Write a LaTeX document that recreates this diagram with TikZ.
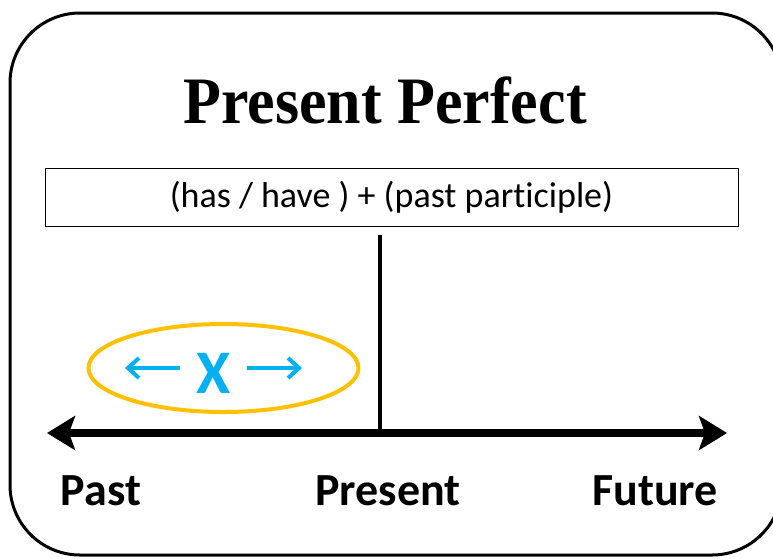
\documentclass[tikz,border=0pt]{standalone}
\usepackage{fontspec}
\setmainfont{Carlito}[Ligatures=NoCommon]
\newfontfamily\titlefont{Liberation Serif}
\usetikzlibrary{arrows.meta,shapes.geometric}
\definecolor{ringc}{HTML}{FFC000}
\definecolor{xcol}{HTML}{00B0F0}
\tikzset{
  lbl/.style={font=\fontsize{46}{50}\selectfont\bfseries, inner sep=0pt, anchor=base},
  bigarrow/.style={line width=8pt, -{Stealth[length=28pt,width=34pt,inset=6pt]}},
  smallarrow/.style={xcol, line width=4pt, -{Straight Barb[length=11pt,width=20pt,line width=4pt]}}
}
\begin{document}
\begin{tikzpicture}[x=1pt,y=-1pt]
\useasboundingbox (0,0) rectangle (773,558);
\draw[line width=3pt, rounded corners=70pt] (10,13) rectangle (782,555);
\node[font=\titlefont\fontsize{62}{66}\selectfont\bfseries, inner sep=0pt, anchor=base] (title) at (385,123) {\scalebox{1}[1.07]{Present Perfect}};
\node[draw, line width=1pt, minimum width=693pt, minimum height=58pt, inner sep=0pt,
      font=\fontsize{36}{40}\selectfont] (formula) at (391.5,197) {(has / have ) + (past participle)};
\coordinate (vtop) at (380,235);
\coordinate (mid) at (380,433);
\coordinate (L) at (47,433);
\coordinate (R) at (727,433);
\draw[line width=4.5pt] (vtop) -- (mid);
\draw[bigarrow] (mid) -- (L);
\draw[bigarrow] (mid) -- (R);
\node[draw=ringc, line width=4pt, ellipse, minimum width=270pt, minimum height=88pt, inner sep=0pt] (ring) at (223.5,368) {};
\node[xcol, font=\fontsize{62}{66}\selectfont\bfseries, inner sep=0pt] (x) at (214,373) {X};
\coordinate (la) at (180,368);
\coordinate (lt) at (125,368);
\coordinate (ra) at (247,368);
\coordinate (rt) at (302,368);
\draw[smallarrow] (la) -- (lt);
\draw[smallarrow] (ra) -- (rt);
\node[lbl] (past) at (101,505) {Past};
\node[lbl] (present) at (388,505) {Present};
\node[lbl] (future) at (655,505) {Future};
\end{tikzpicture}
\end{document}
